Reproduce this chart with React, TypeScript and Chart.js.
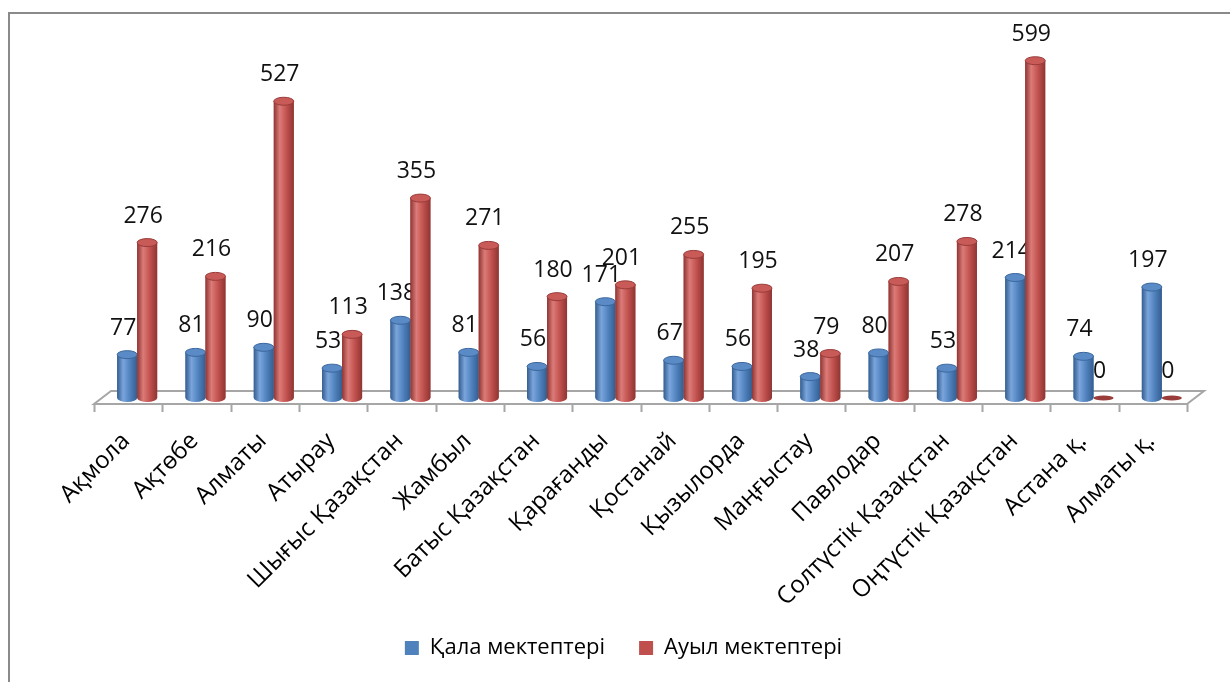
import React, { useEffect, useRef } from "react";
import { Chart, registerables } from "chart.js";

Chart.register(...registerables);

const categories: string[] = [
  "Ақмола",
  "Ақтөбе",
  "Алматы",
  "Атырау",
  "Шығыс Қазақстан",
  "Жамбыл",
  "Батыс Қазақстан",
  "Қарағанды",
  "Қостанай",
  "Қызылорда",
  "Маңғыстау",
  "Павлодар",
  "Солтүстік Қазақстан",
  "Оңтүстік Қазақстан",
  "Астана қ.",
  "Алматы қ.",
];

const cityValues: number[] = [77, 81, 90, 53, 138, 81, 56, 171, 67, 56, 38, 80, 53, 214, 74, 197];
const ruralValues: number[] = [276, 216, 527, 113, 355, 271, 180, 201, 255, 195, 79, 207, 278, 599, 0, 0];

const seriesNames: string[] = ["Қала мектептері", "Ауыл мектептері"];

const FONT = "'Open Sans', 'Noto Sans', sans-serif";

const palettes = [
  { base: "#4F81BD", dark: "#345d8f", light: "#7aa5dc", cap: "#5a8bc6", capEdge: "#3b679c" },
  { base: "#C0504D", dark: "#8e3533", light: "#dc7b78", cap: "#c85a57", capEdge: "#9a3c3a" },
];

const floorPlugin = {
  id: "floor3d",
  beforeDatasetsDraw(chart: any) {
    const ctx = chart.ctx;
    const xs = chart.scales.x;
    const ys = chart.scales.y;
    const zero = ys.getPixelForValue(0);
    const n = categories.length;
    const left = xs.left;
    const right = xs.right;
    const step = (right - left) / n;
    const fl = left - 9;
    const fr = right - 9;
    const fy = zero + 6;
    const by = zero - 7;
    const dx = 17;
    ctx.save();
    ctx.strokeStyle = "#a6a6a6";
    ctx.lineWidth = 2;
    ctx.beginPath();
    ctx.moveTo(fl, fy);
    ctx.lineTo(fl + dx, by);
    ctx.lineTo(fr + dx, by);
    ctx.lineTo(fr, fy);
    ctx.closePath();
    ctx.fillStyle = "#ffffff";
    ctx.fill();
    ctx.stroke();
    ctx.beginPath();
    for (let i = 0; i <= n; i++) {
      const x = Math.round(fl + step * i) + 0.5;
      ctx.moveTo(x, fy);
      ctx.lineTo(x, fy + 8);
    }
    ctx.stroke();
    ctx.restore();
  },
};

const legendShiftPlugin = {
  id: "legendShift",
  afterLayout(chart: any) {
    if (chart.legend) {
      chart.legend.left -= 26;
      chart.legend.right -= 26;
      chart.legend.top -= 10;
      chart.legend.bottom -= 10;
    }
  },
};

const cylinderPlugin = {
  id: "cylinders",
  afterDatasetsDraw(chart: any) {
    const ctx = chart.ctx;
    chart.data.datasets.forEach((ds: any, di: number) => {
      const meta = chart.getDatasetMeta(di);
      const pal = palettes[di];
      meta.data.forEach((el: any, i: number) => {
        const { x, y, base, width } = el.getProps(["x", "y", "base", "width"], true);
        const l = x - width / 2;
        const r = x + width / 2;
        const ry = 4;
        const g = ctx.createLinearGradient(l, 0, r, 0);
        g.addColorStop(0, pal.dark);
        g.addColorStop(0.3, pal.light);
        g.addColorStop(0.65, pal.base);
        g.addColorStop(1, pal.dark);
        ctx.save();
        if (base - y > 0.5) {
          ctx.fillStyle = g;
          ctx.beginPath();
          ctx.moveTo(l, y);
          ctx.lineTo(l, base);
          ctx.ellipse(x, base, width / 2, ry, 0, Math.PI, 0, true);
          ctx.lineTo(r, y);
          ctx.closePath();
          ctx.fill();
          ctx.beginPath();
          ctx.ellipse(x, y, width / 2, ry, 0, 0, Math.PI * 2);
          ctx.fillStyle = pal.cap;
          ctx.fill();
          ctx.strokeStyle = pal.capEdge;
          ctx.lineWidth = 1;
          ctx.stroke();
        } else {
          ctx.beginPath();
          ctx.ellipse(x, base, width / 2, 2.5, 0, 0, Math.PI * 2);
          ctx.fillStyle = pal.capEdge;
          ctx.fill();
        }
        ctx.restore();
        const v = ds.data[i];
        ctx.save();
        ctx.font = `23px ${FONT}`;
        ctx.fillStyle = "#111111";
        ctx.textAlign = "center";
        ctx.textBaseline = "alphabetic";
        ctx.fillText(String(v), x - 4, y - 20);
        ctx.restore();
      });
    });
  },
};

export default function App() {
  const ref = useRef<HTMLCanvasElement | null>(null);
  useEffect(() => {
    if (!ref.current) return;
    const chart = new Chart(ref.current, {
      type: "bar",
      data: {
        labels: categories,
        datasets: [
          {
            label: seriesNames[0],
            data: cityValues,
            backgroundColor: palettes[0].base,
            borderWidth: 0,
            categoryPercentage: 0.586,
            barPercentage: 1,
          },
          {
            label: seriesNames[1],
            data: ruralValues,
            backgroundColor: palettes[1].base,
            borderWidth: 0,
            categoryPercentage: 0.586,
            barPercentage: 1,
          },
        ],
      },
      options: {
        animation: false,
        responsive: false,
        maintainAspectRatio: false,
        layout: { padding: { left: 103, right: 34, top: 32, bottom: 9 } },
        scales: {
          x: {
            grid: { display: false },
            border: { display: false },
            ticks: {
              color: "#000000",
              font: { family: FONT, size: 24 },
              minRotation: 45,
              maxRotation: 45,
              autoSkip: false,
              labelOffset: -11,
              padding: 21,
            },
            afterFit: (scale: any) => {
              scale.height = 215;
            },
          },
          y: {
            display: false,
            min: 0,
            max: 650,
          },
        },
        plugins: {
          legend: {
            position: "bottom",
            maxHeight: 60,
            labels: {
              boxWidth: 14,
              boxHeight: 14,
              padding: 34,
              color: "#000000",
              font: { family: FONT, size: 22 },
            },
          },
          tooltip: { enabled: false },
        },
      },
      plugins: [floorPlugin, cylinderPlugin, legendShiftPlugin],
    });
    return () => chart.destroy();
  }, []);

  return (
    <div style={{ position: "fixed", left: 0, top: 0, width: 1230, height: 682, background: "#fff", overflow: "hidden" }}>
      <div
        style={{
          position: "absolute",
          left: 8,
          top: 12,
          width: 1240,
          height: 700,
          borderTop: "2px solid #8a8a8a",
          borderLeft: "2px solid #8a8a8a",
        }}
      />
      <canvas ref={ref} width={1230} height={682} style={{ position: "absolute", left: 0, top: 0, width: 1230, height: 682 }} />
    </div>
  );
}
